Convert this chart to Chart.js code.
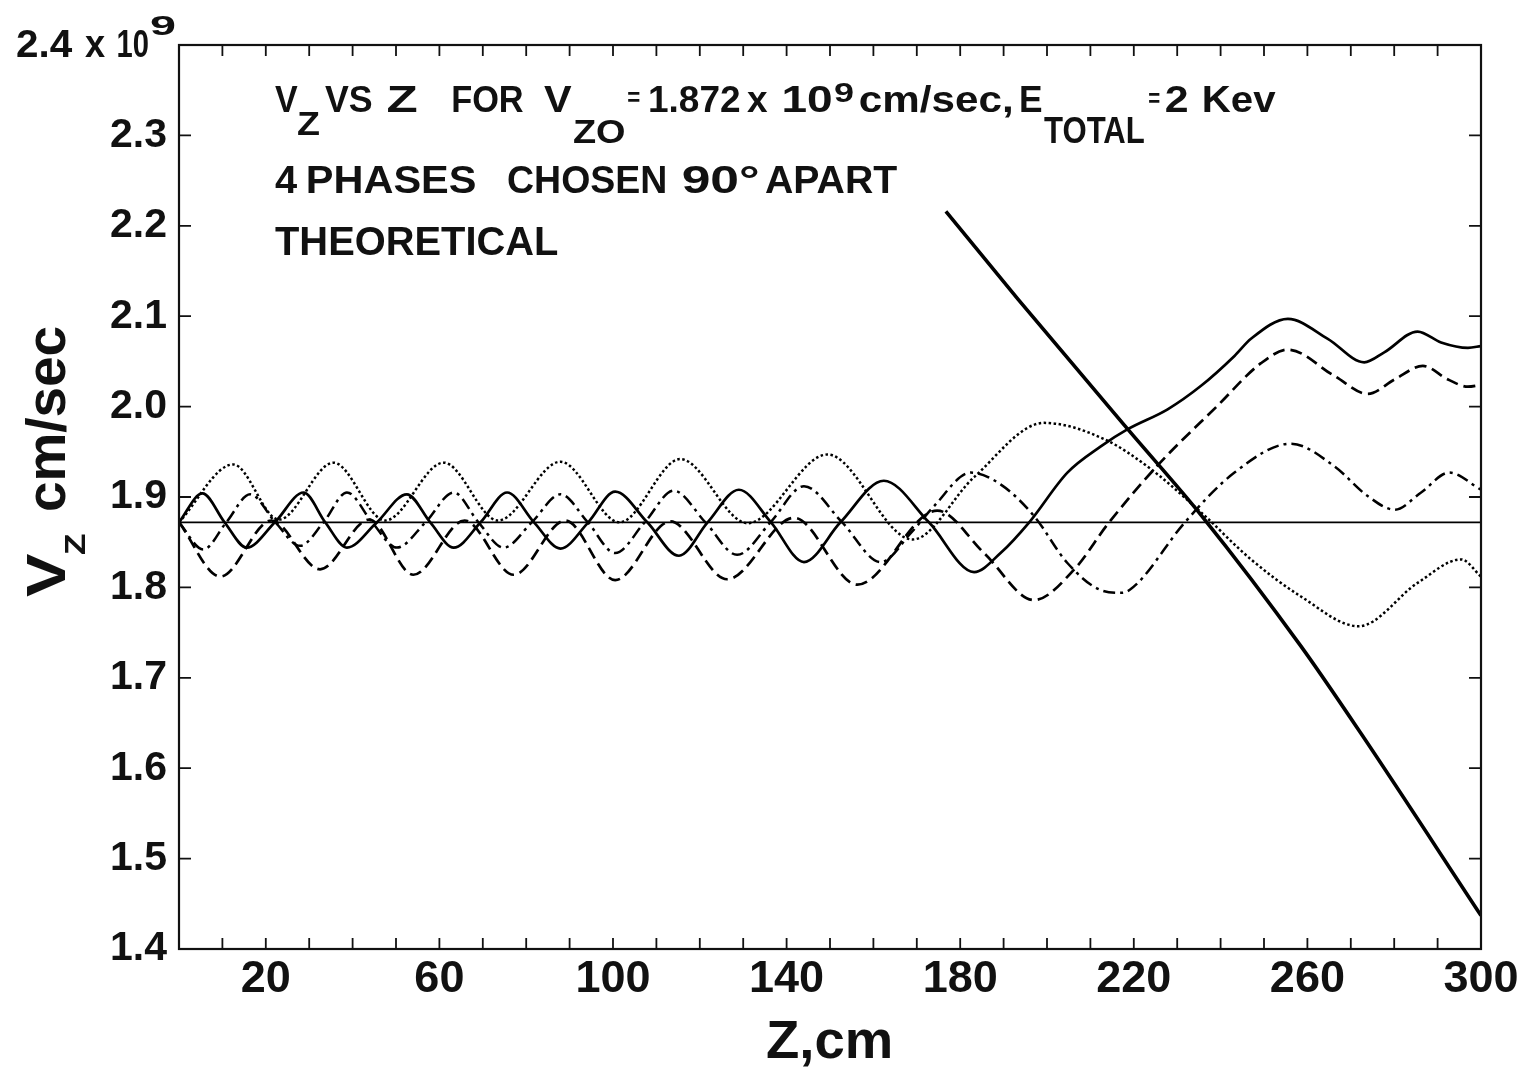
<!DOCTYPE html>
<html>
<head>
<meta charset="utf-8">
<script src="https://cdn.jsdelivr.net/npm/chart.js@4.4.1/dist/chart.umd.min.js"></script>
<style>
  html, body { margin: 0; padding: 0; background: #ffffff; }
  #wrap { width: 1532px; height: 1067px; position: relative; }
</style>
</head>
<body>
<div id="wrap"><canvas id="c"></canvas></div>
<script>
// ---------------- data ----------------
const zSolid = [0, 5.4, 10.5, 15.6, 22.1, 28.7, 33.7, 38.7, 45.6, 52.5, 57.9, 63.3, 69.5, 75.6, 81.8, 87.9, 94.3, 100.5, 107.9, 115.2, 121.8, 129.0, 136.4, 144.0, 152.4, 162.4, 172.8, 183.2, 189.3, 195.9, 204.7, 212.4, 218.6, 227.8, 235.5, 243.2, 247.0, 255.5, 264.7, 273.1, 277.7, 285.4, 290.8, 297.0, 300];
const vSolid = [1.872, 1.904, 1.872, 1.844, 1.872, 1.905, 1.872, 1.844, 1.872, 1.903, 1.872, 1.844, 1.872, 1.905, 1.872, 1.843, 1.872, 1.906, 1.872, 1.835, 1.872, 1.908, 1.872, 1.828, 1.872, 1.918, 1.872, 1.817, 1.838, 1.872, 1.927, 1.956, 1.975, 1.997, 2.023, 2.056, 2.075, 2.097, 2.075, 2.049, 2.060, 2.083, 2.071, 2.065, 2.067];

const zDashed = [0, 9.5, 21.3, 32.5, 43.8, 54.0, 65.8, 77.1, 89.0, 100.5, 113.2, 126.3, 141.7, 156.3, 174.7, 185.5, 197.0, 206.3, 214.0, 225.5, 239.3, 249.3, 255.5, 266.2, 273.9, 280.1, 286.6, 292.4, 297.0, 300];
const vDashed = [1.872, 1.812, 1.874, 1.820, 1.875, 1.814, 1.874, 1.814, 1.874, 1.808, 1.873, 1.809, 1.877, 1.803, 1.885, 1.838, 1.786, 1.820, 1.870, 1.935, 2.001, 2.048, 2.063, 2.034, 2.014, 2.030, 2.045, 2.030, 2.022, 2.024];

const zDashDot = [0, 5.6, 10.9, 16.4, 22.2, 27.9, 33.3, 38.7, 44.5, 50.2, 56.8, 63.3, 69.0, 74.8, 81.3, 87.9, 94.2, 100.5, 107.3, 114.0, 121.3, 128.6, 136.3, 144.0, 152.8, 161.7, 168.6, 174.0, 182.4, 189.3, 197.0, 204.7, 212.4, 217.3, 220.5, 231.6, 243.2, 256.2, 266.2, 273.9, 280.1, 286.2, 292.7, 300];
const vDashDot = [1.872, 1.842, 1.872, 1.903, 1.872, 1.846, 1.872, 1.905, 1.872, 1.844, 1.872, 1.905, 1.872, 1.844, 1.872, 1.903, 1.872, 1.838, 1.872, 1.907, 1.872, 1.836, 1.872, 1.912, 1.872, 1.828, 1.860, 1.890, 1.927, 1.914, 1.879, 1.827, 1.797, 1.794, 1.803, 1.871, 1.927, 1.959, 1.934, 1.901, 1.886, 1.905, 1.927, 1.908];

const zDotted = [0, 12.5, 23.0, 35.6, 47.5, 61.0, 73.5, 87.9, 101.5, 115.5, 131.0, 149.4, 169.0, 183.2, 199.3, 213.2, 223.9, 235.5, 247.0, 258.5, 271.8, 285.4, 295.4, 300];
const vDotted = [1.872, 1.936, 1.875, 1.938, 1.874, 1.938, 1.874, 1.939, 1.872, 1.942, 1.871, 1.947, 1.853, 1.922, 1.982, 1.964, 1.931, 1.883, 1.831, 1.790, 1.757, 1.805, 1.831, 1.812];

const zTheory = [176.7, 193.3, 218.6, 235.5, 258.5, 272.4, 300];
const vTheory = [2.216, 2.119, 1.975, 1.880, 1.735, 1.638, 1.437];

const zRef = [0, 300];
const vRef = [1.872, 1.872];

const xTickLabels = [20, 60, 100, 140, 180, 220, 260, 300];
const yTickLabels = [1.4, 1.5, 1.6, 1.7, 1.8, 1.9, 2.0, 2.1, 2.2, 2.3];

// ---------------- helpers ----------------
const FONT = "'Liberation Sans', Arial, Helvetica, sans-serif";
const INK = '#111111';
const pts = (zs, vs) => zs.map((z, i) => ({ x: z, y: vs[i] }));

function ds(zs, vs, width, dash) {
  return {
    data: pts(zs, vs),
    borderColor: '#000000',
    borderWidth: width,
    borderDash: dash,
    borderCapStyle: 'butt',
    pointRadius: 0,
    fill: false,
    cubicInterpolationMode: 'monotone'
  };
}

// annotation text layout: [text, x0, x1, baseline, fontSize]
const annotation = [
  ['V', 275, 298, 111.7, 37], ['Z', 298, 319, 135, 34], ['VS', 325, 372, 111.7, 37],
  ['Z', 388, 417, 111.7, 37], ['FOR', 453, 523, 111.7, 37], ['V', 544, 572, 111.7, 37],
  ['ZO', 574, 625, 143, 34], ['=', 628, 640, 106, 26], ['1.872', 650, 740, 111.7, 37],
  ['x', 747, 768, 111.7, 37], ['10', 784, 832, 111.7, 37], ['9', 834, 854, 101.5, 27],
  ['cm/sec,', 860, 1011, 111.7, 37], ['E', 1021, 1042, 111.7, 37], ['TOTAL', 1044, 1144, 142.8, 36],
  ['=', 1149, 1160, 107, 26], ['2', 1166, 1188, 111.7, 37], ['Kev', 1204, 1276, 111.7, 37],
  ['4', 275, 297, 193.3, 38], ['PHASES', 308, 475, 193.3, 38], ['CHOSEN', 508, 665, 193.3, 38],
  ['90°', 683, 758, 193.3, 38], ['APART', 765, 897, 193.3, 38],
  ['THEORETICAL', 275, 558, 255, 40],
  ['2.4', 17, 72, 57, 38], ['x', 85, 105, 57, 38], ['10', 118, 148, 57, 38], ['9', 150, 175, 35, 28],
  ['Z,cm', 767, 890, 1058, 53]
];
// rotated y-axis title: [text, d0, d1, baselineOffset, fontSize]
const yTitle = [
  ['V', 0, 43, 0, 56], ['Z', 42, 63, 20, 30], ['cm/sec', 87, 270, 0, 56]
];

function drawSeg(ctx, text, x0, x1, y, size) {
  ctx.font = 'bold ' + size + 'px ' + FONT;
  const m = ctx.measureText(text);
  const inkW = m.actualBoundingBoxRight + m.actualBoundingBoxLeft;
  const s = (x1 - x0) / inkW;
  ctx.save();
  ctx.translate(x0 + m.actualBoundingBoxLeft * s, y);
  ctx.scale(s, 1);
  ctx.fillText(text, 0, 0);
  ctx.restore();
}

const frame = {
  id: 'frame',
  afterDraw(chart) {
    const ctx = chart.ctx, a = chart.chartArea;
    const xs = chart.scales.x, ys = chart.scales.y;
    ctx.save();
    ctx.strokeStyle = INK;
    ctx.lineWidth = 2.2;
    ctx.strokeRect(a.left, a.top, a.right - a.left, a.bottom - a.top);
    ctx.lineWidth = 1.8;
    ctx.beginPath();
    xs.ticks.forEach(t => {
      const p = xs.getPixelForValue(t.value);
      ctx.moveTo(p, a.bottom); ctx.lineTo(p, a.bottom - 11);
      ctx.moveTo(p, a.top); ctx.lineTo(p, a.top + 11);
    });
    ys.ticks.forEach(t => {
      const p = ys.getPixelForValue(t.value);
      ctx.moveTo(a.left, p); ctx.lineTo(a.left + 12, p);
      ctx.moveTo(a.right, p); ctx.lineTo(a.right - 12, p);
    });
    ctx.stroke();

    ctx.fillStyle = INK;
    ctx.textBaseline = 'alphabetic';
    ctx.textAlign = 'left';
    annotation.forEach(s => drawSeg(ctx, s[0], s[1], s[2], s[3], s[4]));

    ctx.save();
    ctx.translate(65, 597);
    ctx.rotate(-Math.PI / 2);
    yTitle.forEach(s => drawSeg(ctx, s[0], s[1], s[2], s[3], s[4]));
    ctx.restore();
    ctx.restore();
  }
};

new Chart(document.getElementById('c'), {
  type: 'line',
  data: {
    datasets: [
      ds(zRef, vRef, 1.8, []),
      ds(zSolid, vSolid, 2.7, []),
      ds(zDashed, vDashed, 2.7, [12, 6]),
      ds(zDashDot, vDashDot, 2.5, [12, 5, 3, 5]),
      ds(zDotted, vDotted, 2.5, [2.5, 2.5]),
      ds(zTheory, vTheory, 3.6, [])
    ]
  },
  options: {
    responsive: true,
    maintainAspectRatio: false,
    devicePixelRatio: 1,
    animation: false,
    events: [],
    layout: { padding: { top: 45, right: 51, bottom: 0, left: 0 } },
    plugins: { legend: { display: false }, tooltip: { enabled: false }, title: { display: false } },
    scales: {
      x: {
        type: 'linear', min: 0, max: 300,
        border: { display: false },
        grid: { display: false, drawTicks: false },
        ticks: {
          stepSize: 10, autoSkip: false, maxRotation: 0, minRotation: 0, padding: 4,
          color: INK, font: { family: FONT, size: 45, weight: 'bold' },
          callback: v => (xTickLabels.includes(Math.round(v)) ? String(Math.round(v)) : '')
        },
        afterFit: s => { s.height = 118; }
      },
      y: {
        type: 'linear', min: 1.4, max: 2.4,
        border: { display: false },
        grid: { display: false, drawTicks: false },
        ticks: {
          stepSize: 0.1, autoSkip: false, padding: 12,
          color: INK, font: { family: FONT, size: 41, weight: 'bold' },
          callback: v => {
            const r = Math.round(v * 10) / 10;
            return yTickLabels.some(t => Math.abs(t - r) < 1e-9) ? r.toFixed(1) : '';
          }
        },
        afterFit: s => { s.width = 179; }
      }
    }
  },
  plugins: [frame]
});
</script>
</body>
</html>
